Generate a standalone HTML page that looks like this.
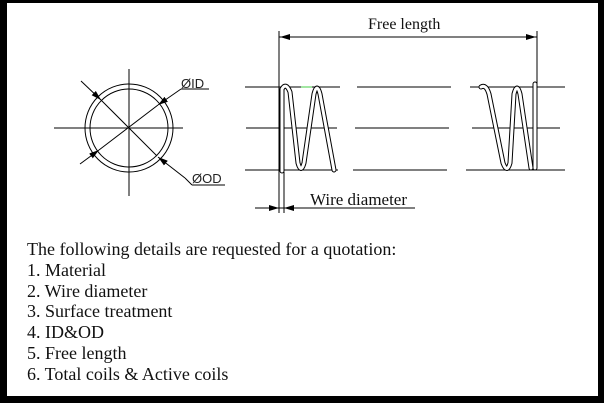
<!DOCTYPE html>
<html><head><style>
html,body{margin:0;padding:0;background:#fff}
.f{position:absolute;left:0;top:0;width:604px;height:403px;box-sizing:border-box;border-style:solid;border-color:#000;border-width:3px 6px 7px 7px;background:#fff}
.t{position:absolute;left:27px;top:239px;font:18px/20.8px "Liberation Serif",serif;color:#111}
</style></head><body>
<div class="f"></div>
<svg width="604" height="403" style="position:absolute;left:0;top:0" font-family="Liberation Sans, sans-serif">
<defs><marker id="a" viewBox="0 0 10 6" refX="10" refY="3" markerWidth="10" markerHeight="6" orient="auto" markerUnits="userSpaceOnUse"><path d="M0,0L10,3L0,6z" fill="#000"/></marker></defs>
<g stroke="#000" stroke-width="1" fill="none">
<circle cx="129" cy="128" r="44"/><circle cx="129" cy="128" r="39"/>
<line x1="54" y1="128" x2="183" y2="128"/><line x1="129" y1="69" x2="129" y2="196"/>
<line x1="81" y1="81" x2="101" y2="100" marker-end="url(#a)"/>
<line x1="101" y1="100" x2="157" y2="156"/>
<line x1="185" y1="178" x2="158" y2="157" marker-end="url(#a)"/>
<line x1="192" y1="185" x2="225" y2="185"/>
<line x1="185" y1="178" x2="192" y2="185"/>
<line x1="80" y1="164" x2="99" y2="150" marker-end="url(#a)"/>
<line x1="99" y1="150" x2="158" y2="105"/>
<line x1="181" y1="89" x2="158" y2="105" marker-end="url(#a)"/>
<line x1="181" y1="89" x2="209" y2="89"/>
<g>
<line x1="245" y1="87" x2="340" y2="87"/><line x1="357" y1="87" x2="451" y2="87"/><line x1="470" y1="87" x2="565" y2="87"/>
<line x1="246" y1="128" x2="337" y2="128"/><line x1="355" y1="128" x2="449" y2="128"/><line x1="472" y1="128" x2="560" y2="128"/>
<line x1="245" y1="170" x2="338" y2="170"/><line x1="353" y1="170" x2="447" y2="170"/><line x1="466" y1="170" x2="565" y2="170"/>
</g>
<line x1="279" y1="31" x2="279" y2="213"/><line x1="537" y1="31" x2="537" y2="88"/>
<line x1="279" y1="37" x2="537" y2="37"/>
<line x1="295" y1="37" x2="280" y2="37" marker-end="url(#a)"/>
<line x1="520" y1="37" x2="536" y2="37" marker-end="url(#a)"/>
<line x1="284" y1="172" x2="284" y2="213"/>
<line x1="255" y1="208" x2="415" y2="208"/>
<line x1="265" y1="208" x2="279" y2="208" marker-end="url(#a)"/>
<line x1="298" y1="208" x2="284" y2="208" marker-end="url(#a)"/>
</g>
<g fill="none" stroke-linecap="round" stroke-linejoin="round">
<path id="c" d="M282,171 L282,89 Q286,82 290,92 L298,163 Q301,174 304,163 L314,94 Q317,82 320,94 L334,170 M481,87 Q486,84 489,94 L503,163 Q507,174 510,163 L514,94 Q517,82 520,94 L531,168 M535,168 L535,84" stroke="#000" stroke-width="5"/>
<path d="M282,171 L282,89 Q286,82 290,92 L298,163 Q301,174 304,163 L314,94 Q317,82 320,94 L334,170 M481,87 Q486,84 489,94 L503,163 Q507,174 510,163 L514,94 Q517,82 520,94 L531,168 M535,168 L535,84" stroke="#fff" stroke-width="3"/>
</g>
<line x1="301" y1="87" x2="312" y2="87" stroke="#4c4" stroke-width="1"/>
<text x="181" y="88" font-size="13" fill="#222">ØID</text>
<text x="192" y="183" font-size="13" fill="#222">ØOD</text>
<text x="368" y="29" font-size="16" font-family="Liberation Serif, serif" fill="#111">Free length</text>
<text x="310" y="205" font-size="17" font-family="Liberation Serif, serif" fill="#111">Wire diameter</text>
</svg>
<div class="t">The following details are requested for a quotation:<br>1. Material<br>2. Wire diameter<br>3. Surface treatment<br>4. ID&amp;OD<br>5. Free length<br>6. Total coils &amp; Active coils</div>
</body></html>
